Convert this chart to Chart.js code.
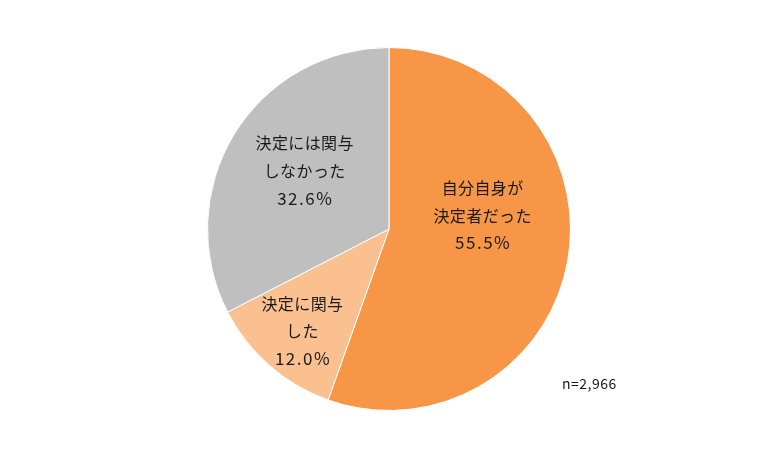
<!DOCTYPE html>
<html>
<head>
<meta charset="utf-8">
<script src="https://cdn.jsdelivr.net/npm/chart.js@4"></script>
<style>
  html, body { margin: 0; padding: 0; background: #ffffff; }
  #wrap { width: 780px; height: 461px; position: relative; }
</style>
</head>
<body>
<div id="wrap"><canvas id="pie"></canvas></div>
<script>
const categories = [['自分自身が', '決定者だった'], ['決定に関与', 'した'], ['決定には関与', 'しなかった']];
const values = [55.5, 12.0, 32.6];
const sampleNote = 'n=2,966';

const colors = ['#F79646', '#FAC090', '#BFBFBF'];
// label nudges from the arc's mid point (px)
const labelShift = [[4, -29], [-27, 34], [-7, -11]];

function spacedText(ctx, text, x, y, spacing) {
  ctx.letterSpacing = spacing + 'px';
  ctx.fillText(text, x + spacing / 2, y);
}

const pieLabels = {
  id: 'pieLabels',
  afterDatasetsDraw(chart) {
    const ctx = chart.ctx;
    const meta = chart.getDatasetMeta(0);
    ctx.save();
    ctx.fillStyle = '#1a1a1a';
    ctx.textAlign = 'center';
    ctx.textBaseline = 'middle';
    meta.data.forEach((arc, i) => {
      const p = arc.tooltipPosition();
      const x = p.x + labelShift[i][0];
      const y = p.y + labelShift[i][1];
      const lines = categories[i].concat([values[i].toFixed(1) + '%']);
      const lh = 27.5;
      lines.forEach((t, k) => {
        const isNum = k === lines.length - 1;
        ctx.font = (isNum ? '17px' : '16px') + ' "Noto Sans CJK JP", sans-serif';
        spacedText(ctx, t, x, y + (k - (lines.length - 1) / 2) * lh, isNum ? 1.5 : 0.4);
      });
    });
    ctx.font = '14px "Noto Sans CJK JP", sans-serif';
    ctx.textAlign = 'left';
    ctx.letterSpacing = '0.5px';
    ctx.fillText(sampleNote, 562, 384);
    ctx.restore();
  }
};

new Chart(document.getElementById('pie'), {
  type: 'pie',
  data: {
    labels: categories.map(c => c.join('')),
    datasets: [{
      data: values,
      backgroundColor: colors,
      borderColor: '#ffffff',
      borderWidth: 1
    }]
  },
  options: {
    responsive: true,
    maintainAspectRatio: false,
    animation: false,
    layout: { padding: { left: 0, right: 2, top: 47, bottom: 50 } },
    plugins: {
      legend: { display: false },
      tooltip: { enabled: false }
    }
  },
  plugins: [pieLabels]
});
</script>
</body>
</html>
